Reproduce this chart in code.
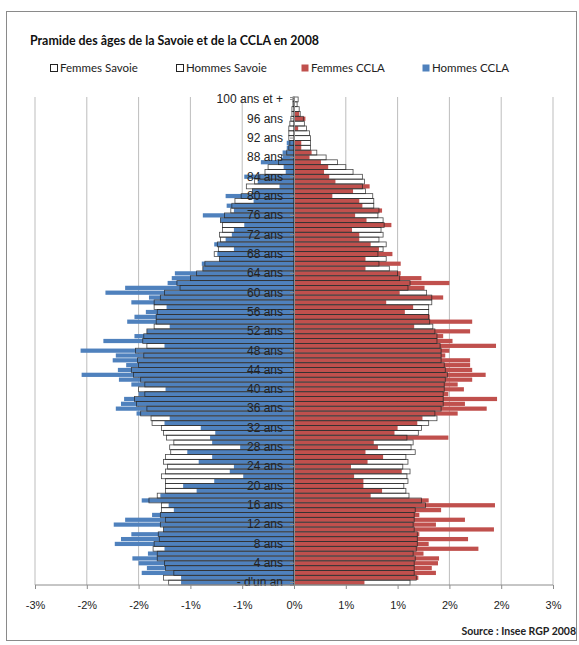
<!DOCTYPE html>
<html>
<head>
<meta charset="utf-8">
<script src="https://cdn.jsdelivr.net/npm/d3@7"></script>
<style>
  body { margin: 0; background: #fff; }
  svg { font-family: Lato, 'Open Sans', sans-serif; }
  .axis path, .axis line { stroke: #8c8c8c; }
  .axis text { fill: #222; }
</style>
</head>
<body>
<div id="chart"></div>
<script>
// pyramide des âges, valeurs en % (âge 0 -> 100 ans et +)

const ages = d3.range(0, 101)

const femmesSavoie = [
  1.12, 1.18, 1.16, 1.16, 1.16, 1.17, 1.15, 1.18, 1.19, 1.19,
  1.19, 1.16, 1.15, 1.16, 1.16, 1.17, 1.27, 1.23, 1.11, 1.08,
  1.06, 1.10, 1.09, 1.12, 1.05, 1.10, 1.08, 1.17, 1.13, 1.15,
  1.09, 1.20, 1.23, 1.30, 1.38, 1.36, 1.42, 1.44, 1.44, 1.44,
  1.45, 1.45, 1.46, 1.48, 1.46, 1.45, 1.42, 1.42, 1.42, 1.41,
  1.38, 1.38, 1.36, 1.34, 1.31, 1.30, 1.30, 1.30, 1.33, 1.33,
  1.28, 1.10, 1.12, 1.02, 1.00, 0.92, 0.82, 0.89, 0.81, 0.86,
  0.89, 0.82, 0.86, 0.84, 0.87, 0.86, 0.81, 0.82, 0.77, 0.77,
  0.76, 0.69, 0.66, 0.68, 0.66, 0.57, 0.50, 0.42, 0.31, 0.22,
  0.16, 0.16, 0.16, 0.15, 0.12, 0.10, 0.09, 0.06, 0.05, 0.03,
  0.04
]

const hommesSavoie = [
  1.21, 1.26, 1.16, 1.24, 1.25, 1.32, 1.32, 1.36, 1.35, 1.30,
  1.31, 1.26, 1.29, 1.24, 1.29, 1.28, 1.28, 1.40, 1.32, 1.24,
  1.24, 1.24, 1.28, 1.24, 1.22, 1.26, 1.24, 1.19, 1.20, 1.16,
  1.23, 1.26, 1.28, 1.37, 1.38, 1.48, 1.42, 1.52, 1.54, 1.44,
  1.50, 1.44, 1.48, 1.55, 1.57, 1.50, 1.51, 1.45, 1.53, 1.42,
  1.46, 1.45, 1.42, 1.35, 1.33, 1.33, 1.32, 1.35, 1.35, 1.29,
  1.25, 1.10, 1.13, 1.00, 0.94, 0.88, 0.86, 0.72, 0.77, 0.73,
  0.74, 0.71, 0.72, 0.69, 0.69, 0.71, 0.67, 0.61, 0.60, 0.57,
  0.51, 0.40, 0.46, 0.38, 0.33, 0.28, 0.25, 0.15, 0.12, 0.07,
  0.05, 0.04, 0.05, 0.05, 0.05, 0.04, 0.03, 0.02, 0.02, 0.01,
  0.01
]

const femmesCCLA = [
  0.68, 1.20, 1.37, 1.33, 1.39, 1.40, 1.25, 1.78, 1.30, 1.68,
  1.21, 1.93, 1.37, 1.65, 1.21, 1.42, 1.94, 1.30, 0.74, 0.85,
  0.67, 0.67, 0.58, 1.04, 0.55, 0.71, 0.86, 0.69, 0.81, 0.77,
  1.49, 0.97, 1.00, 1.19, 1.24, 1.58, 1.86, 1.65, 1.96, 1.49,
  1.64, 1.58, 1.72, 1.85, 1.72, 1.70, 1.70, 1.46, 1.50, 1.95,
  1.53, 1.44, 1.70, 1.16, 1.72, 1.31, 1.07, 1.15, 0.89, 1.44,
  1.02, 1.26, 1.50, 1.23, 1.03, 0.69, 1.03, 0.69, 0.95, 0.82,
  0.74, 0.63, 0.63, 0.56, 0.94, 0.70, 0.59, 0.85, 0.66, 0.63,
  0.37, 0.57, 0.73, 0.40, 0.34, 0.29, 0.33, 0.26, 0.15, 0.17,
  0.07, 0.07, 0.00, 0.00, 0.04, 0.00, 0.11, 0.05, 0.00, 0.00,
  0.00
]

const hommesCCLA = [
  1.09, 1.09, 1.47, 1.42, 1.50, 1.56, 1.41, 1.25, 1.73, 1.67,
  1.57, 1.26, 1.74, 1.63, 1.37, 1.16, 1.21, 1.47, 1.29, 0.94,
  1.07, 0.77, 0.49, 0.62, 0.58, 0.92, 0.79, 1.03, 0.52, 0.79,
  0.81, 0.76, 0.90, 1.25, 1.20, 1.52, 1.72, 1.67, 1.64, 1.50,
  1.24, 1.57, 1.69, 2.05, 1.70, 1.62, 1.75, 1.72, 2.06, 1.25,
  1.84, 1.54, 1.42, 1.20, 1.61, 1.54, 1.43, 1.23, 1.57, 1.40,
  1.82, 1.63, 1.22, 1.18, 1.15, 0.88, 0.89, 0.72, 0.74, 0.58,
  0.77, 0.66, 0.60, 0.58, 0.48, 0.71, 0.88, 0.58, 0.65, 0.39,
  0.66, 0.40, 0.14, 0.35, 0.48, 0.08, 0.10, 0.32, 0.11, 0.11,
  0.07, 0.07, 0.00, 0.00, 0.00, 0.00, 0.00, 0.00, 0.00, 0.00,
  0.00
]

const xTicks = [-2.5, -2, -1.5, -1, -0.5, 0, 0.5, 1, 1.5, 2, 2.5]
const ageTicks = d3.range(0, 101, 4)

const legendItems = [
  { label: 'Femmes Savoie', fill: '#fff', stroke: '#222', x: 50 },
  { label: 'Hommes Savoie', fill: '#fff', stroke: '#222', x: 176 },
  { label: 'Femmes CCLA', fill: '#c0504d', stroke: 'none', x: 301 },
  { label: 'Hommes CCLA', fill: '#4f81bd', stroke: 'none', x: 422 }
]

const width = 579
const height = 645
const plot = { left: 35, right: 553, top: 97, bottom: 585 }

const svg = d3
  .select('#chart')
  .append('svg')
  .attr('width', width)
  .attr('height', height)

// cadre
svg
  .append('rect')
  .attr('x', 6.5)
  .attr('y', 11.5)
  .attr('width', 570)
  .attr('height', 629)
  .attr('fill', 'none')
  .attr('stroke', '#8a8a8a')

svg
  .append('text')
  .attr('x', 30)
  .attr('y', 45)
  .attr('font-size', 12.4)
  .attr('font-weight', 'bold')
  .attr('fill', '#111')
  .text('Pramide des âges de la Savoie et de la CCLA en 2008')

const legend = svg
  .selectAll('.legend')
  .data(legendItems)
  .enter()
  .append('g')
  .attr('class', 'legend')
  .attr('transform', d => 'translate(' + d.x + ',68)')
legend
  .append('rect')
  .attr('x', 0.5)
  .attr('y', -3.5)
  .attr('width', 7)
  .attr('height', 7)
  .attr('fill', d => d.fill)
  .attr('stroke', d => d.stroke)
legend
  .append('text')
  .attr('x', 10)
  .attr('y', 4)
  .attr('font-size', 11.5)
  .attr('fill', '#222')
  .text(d => d.label)

const xPositionScale = d3
  .scaleLinear()
  .domain([-2.5, 2.5])
  .range([plot.left, plot.right])

const yPositionScale = d3
  .scaleBand()
  .domain(ages.slice().reverse())
  .range([plot.top, plot.bottom])
  .padding(0)

// grille verticale
svg
  .append('g')
  .selectAll('line')
  .data(xTicks)
  .enter()
  .append('line')
  .attr('x1', d => xPositionScale(d))
  .attr('x2', d => xPositionScale(d))
  .attr('y1', plot.top)
  .attr('y2', plot.bottom)
  .attr('stroke', '#bdbdbd')

const bw = yPositionScale.bandwidth()
const x0 = xPositionScale(0)

function barX(v, side) {
  return side < 0 ? xPositionScale(-v) : x0
}
function barW(v, side) {
  return side < 0 ? x0 - xPositionScale(-v) : xPositionScale(v) - x0
}

const savoie = [
  { values: femmesSavoie, side: 1 },
  { values: hommesSavoie, side: -1 }
]
const ccla = [
  { values: femmesCCLA, side: 1, color: '#c0504d' },
  { values: hommesCCLA, side: -1, color: '#4f81bd' }
]

// Savoie : fond blanc
savoie.forEach(s => {
  svg
    .append('g')
    .selectAll('rect')
    .data(ages)
    .enter()
    .append('rect')
    .attr('x', a => barX(s.values[a], s.side))
    .attr('y', a => yPositionScale(a))
    .attr('width', a => barW(s.values[a], s.side))
    .attr('height', bw)
    .attr('fill', '#fff')
})

// CCLA
ccla.forEach(s => {
  svg
    .append('g')
    .selectAll('rect')
    .data(ages)
    .enter()
    .append('rect')
    .attr('x', a => barX(s.values[a], s.side))
    .attr('y', a => yPositionScale(a) + 0.3)
    .attr('width', a => barW(s.values[a], s.side))
    .attr('height', bw - 0.6)
    .attr('fill', s.color)
})

// Savoie : contours par-dessus
savoie.forEach(s => {
  svg
    .append('g')
    .selectAll('rect')
    .data(ages)
    .enter()
    .append('rect')
    .attr('x', a => barX(s.values[a], s.side))
    .attr('y', a => yPositionScale(a))
    .attr('width', a => barW(s.values[a], s.side))
    .attr('height', bw)
    .attr('fill', 'none')
    .attr('stroke', '#1e1e1e')
    .attr('stroke-opacity', 0.8)
    .attr('stroke-width', 0.8)
})

const yAxis = d3
  .axisLeft(yPositionScale)
  .tickValues(ageTicks)
  .tickSize(4)
  .tickPadding(7)
  .tickFormat(a => (a === 0 ? "- d'un an" : a === 100 ? '100 ans et +' : a + ' ans'))
svg
  .append('g')
  .attr('class', 'axis y-axis')
  .attr('transform', 'translate(' + x0 + ',0)')
  .call(yAxis)
  .call(g => g.selectAll('text').attr('font-size', 12))

const xAxis = d3
  .axisBottom(xPositionScale)
  .tickValues(xTicks)
  .tickSize(4)
  .tickPadding(12)
  .tickFormat(d => (d < 0 ? '-' : '') + Math.round(Math.abs(d)) + '%')
svg
  .append('g')
  .attr('class', 'axis x-axis')
  .attr('transform', 'translate(0,' + plot.bottom + ')')
  .call(xAxis)
  .call(g => g.select('.domain').attr('d', 'M' + plot.left + ',0H' + plot.right))
  .call(g => g.selectAll('text').attr('font-size', 11))

svg
  .append('text')
  .attr('x', 576)
  .attr('y', 635)
  .attr('text-anchor', 'end')
  .attr('font-size', 10.5)
  .attr('font-weight', 'bold')
  .attr('fill', '#222')
  .text('Source : Insee RGP 2008')
</script>
</body>
</html>
